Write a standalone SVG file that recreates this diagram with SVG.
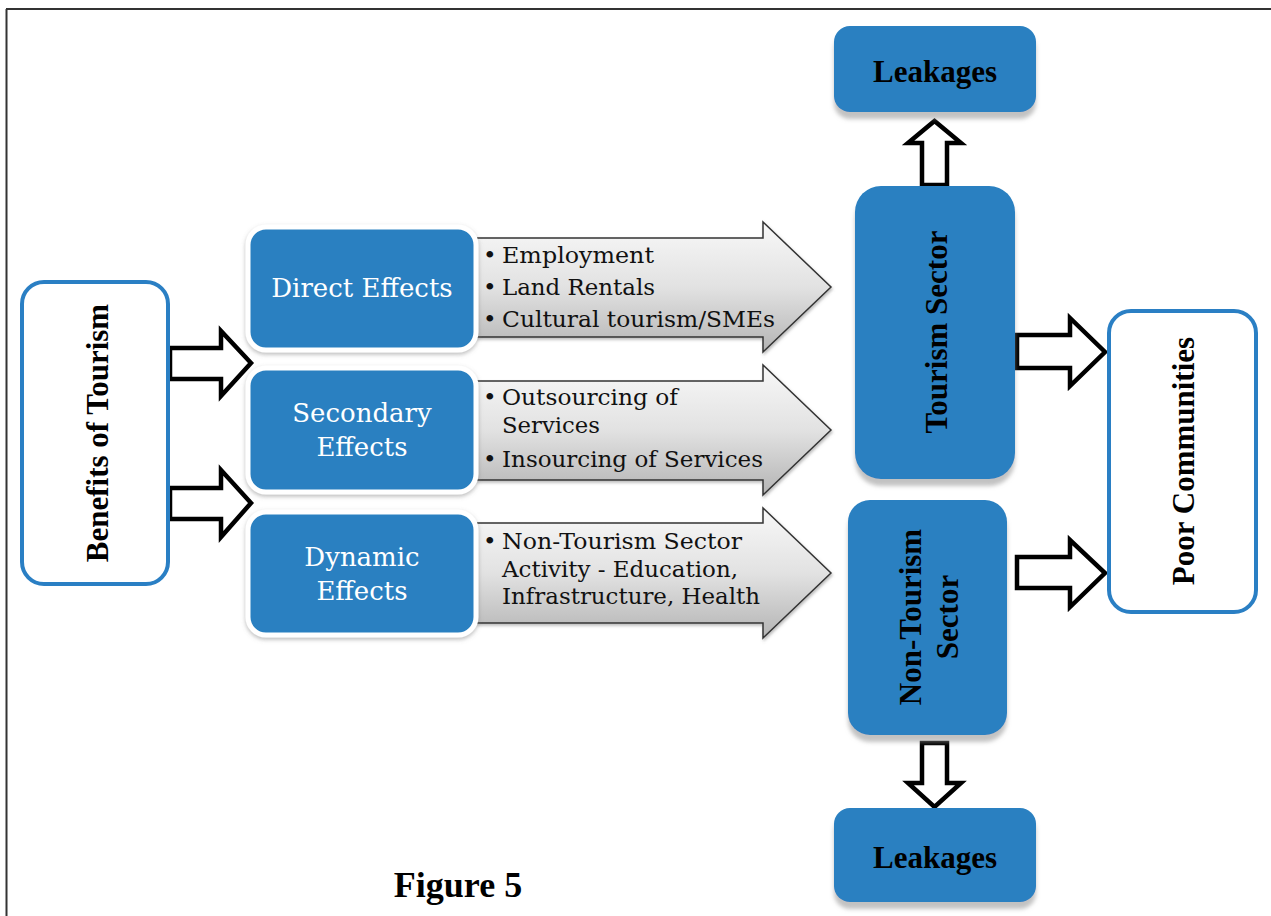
<svg xmlns="http://www.w3.org/2000/svg" width="1271" height="916" viewBox="0 0 1271 916">
<style>
.bluebox{fill:#2980c1;}
.effbox{fill:#2980c1;stroke:#ffffff;stroke-width:5;filter:url(#sh);}
.outline{fill:#ffffff;stroke:#2a7fc4;stroke-width:4;}
.hollow{fill:#ffffff;stroke:#000000;stroke-width:4.5;stroke-linejoin:miter;}
.grey{fill:url(#gg);stroke:#333333;stroke-width:1.5;filter:url(#sh2);}
.wt{font-family:"DejaVu Serif",serif;font-size:26px;fill:#ffffff;text-anchor:middle;}
.bt{font-family:"DejaVu Serif",serif;font-size:23px;fill:#111111;}
.bold{font-family:"Liberation Serif",serif;font-weight:bold;font-size:31px;fill:#000000;text-anchor:middle;}
</style>
<defs>
<linearGradient id="gg" x1="0" y1="0" x2="0" y2="1">
<stop offset="0" stop-color="#f8f8f8"/>
<stop offset="0.5" stop-color="#e2e2e2"/>
<stop offset="1" stop-color="#b4b4b4"/>
</linearGradient>
<filter id="sh" x="-10%" y="-10%" width="120%" height="130%">
<feDropShadow dx="0" dy="2" stdDeviation="2" flood-color="#777777" flood-opacity="0.5"/>
</filter>
<filter id="sh2" x="-10%" y="-10%" width="120%" height="130%">
<feDropShadow dx="1" dy="2" stdDeviation="1.5" flood-color="#777777" flood-opacity="0.5"/>
</filter>
<filter id="sh3" x="-10%" y="-10%" width="120%" height="130%">
<feDropShadow dx="0" dy="7" stdDeviation="2" flood-color="#999999" flood-opacity="0.6"/>
</filter>
</defs>
<rect x="0" y="0" width="1271" height="916" fill="#ffffff"/>
<g id="frame">
<line x1="6.5" y1="9" x2="6.5" y2="916" stroke="#333333" stroke-width="2"/>
<line x1="6" y1="9" x2="1271" y2="9" stroke="#333333" stroke-width="2"/>
</g>
<g id="connectors">
<path class="hollow" d="M170,348 L221,348 L221,331 L251,363 L221,396 L221,379 L170,379 Z"/>
<path class="hollow" d="M170,488 L221,488 L221,470 L251,503 L221,537 L221,519 L170,519 Z"/>
<path class="grey" d="M476,238 L763,238 L763,222 L831,287 L763,352 L763,337 L476,337 Z"/>
<path class="grey" d="M476,381 L763,381 L763,365 L831,430 L763,495 L763,480 L476,480 Z"/>
<path class="grey" d="M476,523 L763,523 L763,508 L831,573 L763,638 L763,623 L476,623 Z"/>
<path class="hollow" d="M1017,335 L1070,335 L1070,318 L1105,352 L1070,386 L1070,368 L1017,368 Z"/>
<path class="hollow" d="M1017,557 L1070,557 L1070,540 L1105,573 L1070,607 L1070,588 L1017,588 Z"/>
<path class="hollow" d="M922,185 L922,143 L908,143 L934.5,121 L961,143 L947,143 L947,185 Z"/>
<path class="hollow" d="M922,743 L922,783 L908,783 L934.5,807 L961,783 L947,783 L947,743 Z"/>
</g>
<g id="benefits">
<rect class="outline" x="22" y="282" width="146" height="302" rx="22"/>
<text class="bold" transform="translate(108,433) rotate(-90)" font-size="32">Benefits of Tourism</text>
</g>
<g id="direct">
<rect class="effbox" x="248" y="227" width="228" height="123" rx="18"/>
<text class="wt" x="362" y="297">Direct Effects</text>
</g>
<g id="direct-items">
<text class="bt" x="483" y="263">•</text><text class="bt" x="502" y="263" textLength="152" lengthAdjust="spacingAndGlyphs">Employment</text>
<text class="bt" x="483" y="295">•</text><text class="bt" x="502" y="295" textLength="153" lengthAdjust="spacingAndGlyphs">Land Rentals</text>
<text class="bt" x="483" y="327">•</text><text class="bt" x="502" y="327" textLength="273" lengthAdjust="spacingAndGlyphs">Cultural tourism/SMEs</text>
</g>
<g id="secondary">
<rect class="effbox" x="248" y="368" width="228" height="124" rx="18"/>
<text class="wt" x="362" y="422">Secondary</text>
<text class="wt" x="362" y="456">Effects</text>
</g>
<g id="secondary-items">
<text class="bt" x="483" y="405">•</text><text class="bt" x="502" y="405" textLength="176" lengthAdjust="spacingAndGlyphs">Outsourcing of</text>
<text class="bt" x="502" y="433" textLength="98" lengthAdjust="spacingAndGlyphs">Services</text>
<text class="bt" x="483" y="467">•</text><text class="bt" x="502" y="467" textLength="261" lengthAdjust="spacingAndGlyphs">Insourcing of Services</text>
</g>
<g id="dynamic">
<rect class="effbox" x="248" y="512" width="228" height="123" rx="18"/>
<text class="wt" x="362" y="566">Dynamic</text>
<text class="wt" x="362" y="600">Effects</text>
</g>
<g id="dynamic-items">
<text class="bt" x="483" y="549">•</text><text class="bt" x="502" y="549" textLength="240" lengthAdjust="spacingAndGlyphs">Non-Tourism Sector</text>
<text class="bt" x="502" y="577" textLength="236" lengthAdjust="spacingAndGlyphs">Activity - Education,</text>
<text class="bt" x="502" y="604" textLength="258" lengthAdjust="spacingAndGlyphs">Infrastructure, Health</text>
</g>
<g id="leakages-top">
<rect class="bluebox" x="834" y="26" width="202" height="86" rx="16" filter="url(#sh3)"/>
<text class="bold" x="935" y="82" font-size="32">Leakages</text>
</g>
<g id="tourism-sector">
<rect class="bluebox" x="855" y="186" width="160" height="293" rx="26" filter="url(#sh3)"/>
<text class="bold" transform="translate(947,332) rotate(-90)">Tourism Sector</text>
</g>
<g id="non-tourism-sector">
<rect class="bluebox" x="848" y="500" width="159" height="235" rx="22" filter="url(#sh3)"/>
<text class="bold" transform="translate(921,617) rotate(-90)">Non-Tourism</text>
<text class="bold" transform="translate(958,617) rotate(-90)">Sector</text>
</g>
<g id="poor-communities">
<rect class="outline" x="1109" y="311" width="147" height="301" rx="22"/>
<text class="bold" transform="translate(1194,461) rotate(-90)">Poor Communities</text>
</g>
<g id="leakages-bottom">
<rect class="bluebox" x="834" y="808" width="202" height="94" rx="16" filter="url(#sh3)"/>
<text class="bold" x="935" y="868" font-size="32">Leakages</text>
</g>
<g id="caption">
<text x="458" y="897" font-family="Liberation Serif, serif" font-weight="bold" font-size="36" text-anchor="middle" fill="#000000">Figure 5</text>
</g>
</svg>
